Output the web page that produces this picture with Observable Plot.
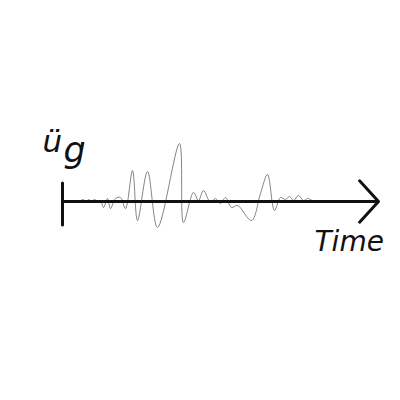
<!DOCTYPE html>
<html>
<head>
<meta charset="utf-8">
<script src="https://cdn.jsdelivr.net/npm/d3@7"></script>
<script src="https://cdn.jsdelivr.net/npm/@observablehq/plot@0.6"></script>
<style>
  html, body { margin: 0; padding: 0; background: #fff; }
</style>
</head>
<body>
<div id="chart"></div>
<script>
// Ground acceleration record (sketch), time in s, acceleration in arbitrary units
const time = [1.8, 2.1, 2.3, 2.6, 2.9, 3.2, 3.5, 3.8, 4.1, 4.5, 4.8, 5.3, 5.8, 6.3, 7.0, 7.5, 8.5, 9.5,
  11.7, 12.1, 13.1, 13.6, 14.1, 14.8, 15.3, 15.8, 16.3, 16.9, 17.5, 18.9, 19.8, 20.5, 21.2, 21.8,
  22.3, 22.7, 23.1, 23.6, 24.1, 24.5, 25.0, 26.5];
const accel = [0.1, 0.2, -0.1, 0.2, 0.0, 0.2, 0.0, 0.1, -0.6, 0.3, -0.7, 0.3, 0.4, -0.7, 3.1, -1.9, 3.0, -2.6,
  5.8, -2.1, 0.9, 0.1, 1.1, -0.1, 0.3, -0.2, 0.4, -0.6, -0.4, -1.9, 0.8, 2.7, -0.9, 0.4,
  0.2, 0.5, 0.1, 0.6, 0.1, 0.3, 0.1, 0.1];

const axisEnd = 31.6;
const axisTop = 1.8, axisBottom = -2.4;
const yLabel = ["ü", "g"];
const xLabel = "Time";

const record = time.map((t, i) => ({time: t, accel: accel[i]}));

const hand = "DejaVu Sans";

const plot = Plot.plot({
  width: 400,
  height: 400,
  marginLeft: 62,
  marginRight: 22,
  marginTop: 0,
  marginBottom: 0,
  x: {domain: [0, axisEnd], axis: null},
  y: {domain: [-19.9, 20.1], axis: null},
  style: {background: "#fff"},
  marks: [
    Plot.line(record, {x: "time", y: "accel", curve: "catmull-rom", stroke: "#666", strokeWidth: 0.8}),
    Plot.arrow([{x1: 0, x2: axisEnd, y1: 0, y2: 0}], {
      x1: "x1", x2: "x2", y1: "y1", y2: "y2",
      stroke: "#111", strokeWidth: 3, headAngle: 95, headLength: 14, strokeLinecap: "round"
    }),
    Plot.ruleX([0], {y1: axisBottom, y2: axisTop, stroke: "#111", strokeWidth: 3, strokeLinecap: "round"}),
    Plot.text([yLabel[0]], {frameAnchor: "top-left", lineAnchor: "top", dx: -20, dy: 129, fontSize: 31, fontStyle: "italic",
      fontFamily: hand, fill: "#111", textAnchor: "start", fontWeight: 500}),
    Plot.text([yLabel[1]], {frameAnchor: "top-left", lineAnchor: "top", dx: 1, dy: 137, fontSize: 35, fontStyle: "italic",
      fontFamily: hand, fill: "#111", textAnchor: "start", fontWeight: 500}),
    Plot.text([xLabel], {frameAnchor: "top-left", lineAnchor: "top", dx: 252, dy: 231, fontSize: 28, fontStyle: "italic",
      fontFamily: hand, fill: "#111", textAnchor: "start", fontWeight: 500})
  ]
});
document.getElementById("chart").appendChild(plot);
</script>
</body>
</html>
